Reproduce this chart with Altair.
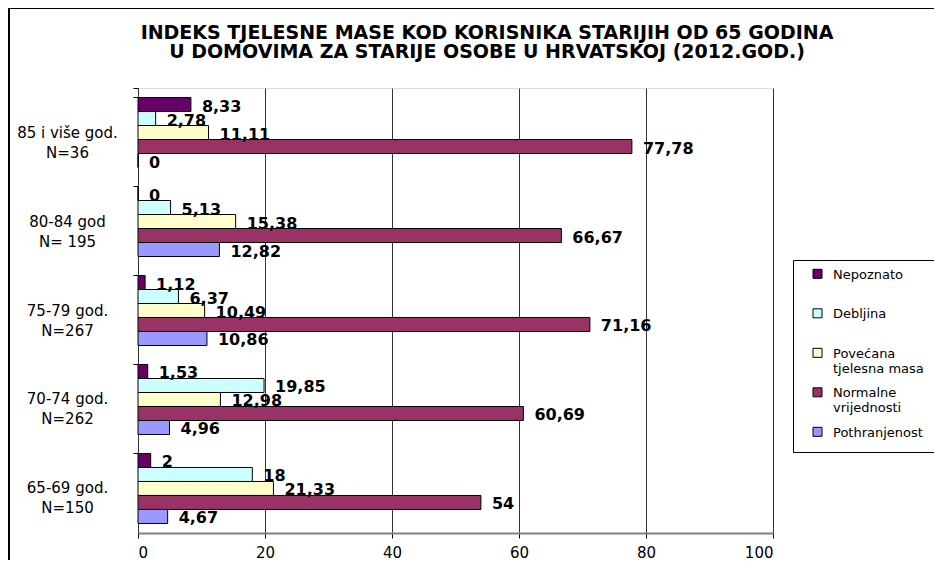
import altair as alt
import pandas as pd

title_lines = ["INDEKS TJELESNE MASE KOD KORISNIKA STARIJIH OD 65 GODINA",
               "U  DOMOVIMA ZA STARIJE OSOBE U HRVATSKOJ (2012.GOD.)"]
categories = ["85 i više god.\nN=36", "80-84 god\nN= 195", "75-79 god.\nN=267",
              "70-74 god.\nN=262", "65-69 god.\nN=150"]
series = ["Nepoznato", "Debljina", "Povećana\ntjelesna masa",
          "Normalne\nvrijednosti", "Pothranjenost"]
colors = ["#660066", "#CCFFFF", "#FFFFCC", "#993366", "#9999FF"]

nepoznato = [8.33, 0, 1.12, 1.53, 2]
debljina = [2.78, 5.13, 6.37, 19.85, 18]
povecana = [11.11, 15.38, 10.49, 12.98, 21.33]
normalne = [77.78, 66.67, 71.16, 60.69, 54]
pothranjenost = [0, 12.82, 10.86, 4.96, 4.67]
x_ticks = [0, 20, 40, 60, 80, 100]

rows = []
for s, vals in zip(series, [nepoznato, debljina, povecana, normalne, pothranjenost]):
    for c, v in zip(categories, vals):
        rows.append({"cat": c, "series": s, "value": v,
                     "label": f"{v:g}".replace(".", ",")})
df = pd.DataFrame(rows)

FONT = "DejaVu Sans"

y_enc = alt.Y("cat:N", sort=categories, title=None,
              scale=alt.Scale(paddingInner=0.2135, paddingOuter=0.107),
              axis=alt.Axis(labelExpr="split(datum.label, '\\n')", labelAlign="center",
                            labelBaseline="middle", labelPadding=66, labelFontSize=15,
                            labelFont=FONT, labelColor="black", labelLineHeight=20,
                            tickColor="black", tickSize=5, domain=False,
                            bandPosition=0, tickExtra=True))
x_enc = alt.X("value:Q", title=None,
              scale=alt.Scale(domain=[0, 100], nice=False),
              axis=alt.Axis(values=x_ticks, labelFontSize=15, labelFont=FONT,
                            labelColor="black", tickColor="black", tickSize=5,
                            labelPadding=7, domainColor="#808080", domainWidth=2,
                            gridColor="#333333", gridWidth=1, grid=True))
yoff = alt.YOffset("series:N", sort=series,
                   scale=alt.Scale(paddingInner=0, paddingOuter=0))

bars = alt.Chart(df).mark_bar(stroke="black", strokeWidth=1).encode(
    x=x_enc, y=y_enc, yOffset=yoff,
    color=alt.Color("series:N", sort=series,
                    scale=alt.Scale(domain=series, range=colors),
                    legend=alt.Legend(title=None, orient="none", legendX=655, legendY=172,
                                      labelExpr="split(datum.label, '\\n')",
                                      labelFontSize=13, labelFont=FONT, labelColor="black",
                                      symbolType="M-1,-2.04H1V-0.04H-1Z", symbolSize=81,
                                      symbolStrokeColor="black", symbolStrokeWidth=1,
                                      symbolOpacity=1, symbolOffset=6, labelOffset=9,
                                      labelBaseline="alphabetic",
                                      gridAlign="all", rowPadding=9.5, padding=12,
                                      strokeColor="black", fillColor="white",
                                      labelLimit=200)),
)

texts = alt.Chart(df).mark_text(align="left", baseline="middle", dx=11, dy=2,
                                fontSize=16, fontWeight="bold", font=FONT,
                                color="black").encode(
    x="value:Q", y=alt.Y("cat:N", sort=categories), yOffset=yoff, text="label:N")

title = alt.Chart(pd.DataFrame({"t": ["\n".join(title_lines)]})).mark_text(
    align="center", baseline="middle", lineBreak="\n", lineHeight=19,
    fontSize=19, fontWeight="bold", font=FONT, color="black").encode(
    text="t:N", x=alt.value(349), y=alt.value(-55.5))

frame_top = alt.Chart(pd.DataFrame({"a": [0]})).mark_rule(
    color="black", strokeWidth=2).encode(
    x=alt.value(-129), x2=alt.value(800), y=alt.value(-80))
frame_left = alt.Chart(pd.DataFrame({"a": [0]})).mark_rule(
    color="black", strokeWidth=2).encode(
    x=alt.value(-129), y=alt.value(-80), y2=alt.value(475))

chart = alt.layer(bars, texts, title, frame_top, frame_left).properties(
    width=635, height=445,
    autosize=alt.AutoSizeParams(type="none"),
    padding={"left": 130, "top": 80, "right": 161, "bottom": 27},
).configure_view(fill="#C0C0C0", stroke="#808080", strokeWidth=2
).configure(background="white")

chart.save("out.html", embed_options={"renderer": "svg", "actions": False})
